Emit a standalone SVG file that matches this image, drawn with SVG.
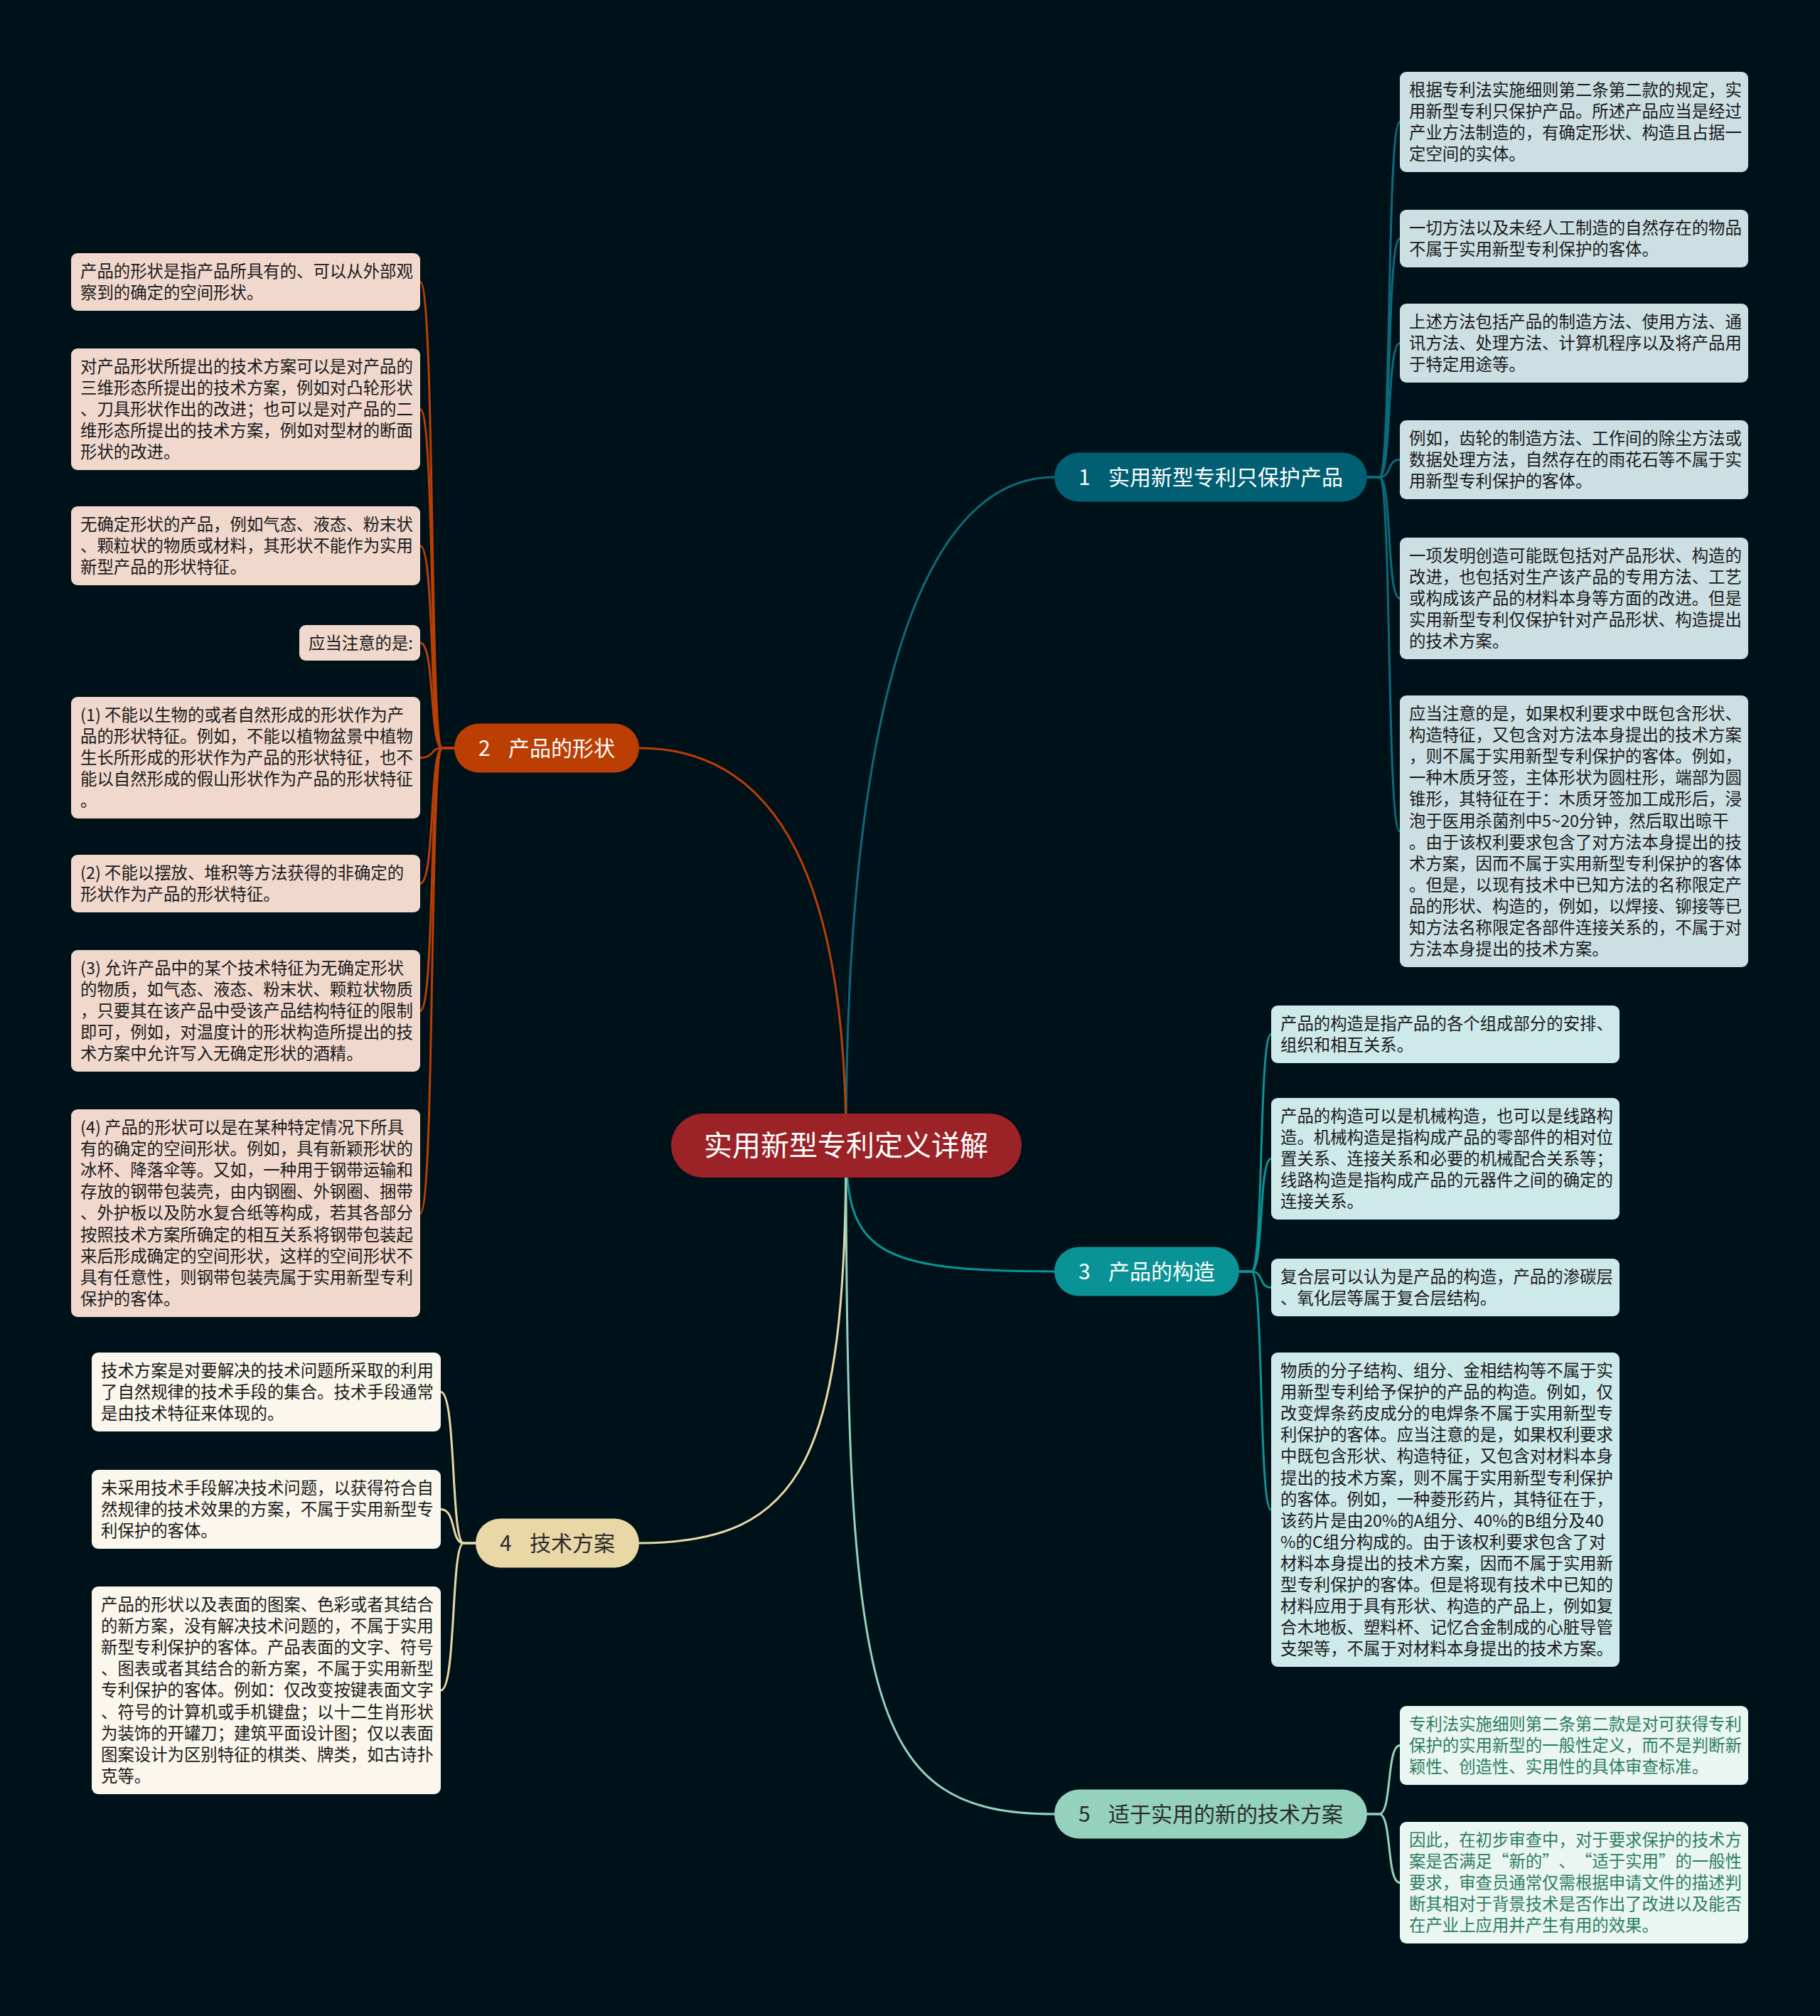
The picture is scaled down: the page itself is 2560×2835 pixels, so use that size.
<svg xmlns="http://www.w3.org/2000/svg" width="2560" height="2835" viewBox="0 0 2560 2835">
<style>
text{font-family:"Noto Sans CJK SC","Noto Sans",sans-serif;}
.lt{font-size:23.4px;fill:#1a1a1a;}
.g5{fill:#2e7d60;}
.bt{font-size:30px;}
.w{fill:#ffffff;}
.d{fill:#2b2b2b;}
.c1{fill:#ccdfe3;}
.c2{fill:#f1d8cd;}
.c3{fill:#cee9ea;}
.c4{fill:#fbf7ed;}
.c5{fill:#eaf6f2;}
.e{fill:none;stroke-width:3;stroke-linecap:round;}
.s1{stroke:#0b6a7d;}
.s2{stroke:#bb3e03;}
.s3{stroke:#0a9396;}
.s4{stroke:#e9d8a6;}
.s5{stroke:#94d2bd;}
</style>
<rect width="2560" height="2835" fill="#001219"/>
<g id="connectors">
<path class="e s1" d="M1190,1611 C1190,1080 1270,671 1483,671"/>
<path class="e s2" d="M1190,1611 C1190,1250 1100,1052 899,1052"/>
<path class="e s3" d="M1190,1611 C1190,1760 1230,1788 1483,1788"/>
<path class="e s4" d="M1190,1611 C1190,2050 1130,2170 899,2170"/>
<path class="e s5" d="M1190,1611 C1190,2400 1220,2551 1483,2551"/>
<g class="e s1">
<path d="M1923,671 L1940,671 C1958,671 1950,171.5 1969,171.5"/>
<path d="M1923,671 L1940,671 C1958,671 1950,335.5 1969,335.5"/>
<path d="M1923,671 L1940,671 C1958,671 1950,482.5 1969,482.5"/>
<path d="M1923,671 L1940,671 C1958,671 1950,646.5 1969,646.5"/>
<path d="M1923,671 L1940,671 C1958,671 1950,841.5 1969,841.5"/>
<path d="M1923,671 L1940,671 C1958,671 1950,1169 1969,1169"/>
</g>
<g class="e s2">
<path d="M639,1052 L622,1052 C604,1052 612,396.5 591,396.5"/>
<path d="M639,1052 L622,1052 C604,1052 612,575.5 591,575.5"/>
<path d="M639,1052 L622,1052 C604,1052 612,767.5 591,767.5"/>
<path d="M639,1052 L622,1052 C604,1052 612,904 591,904"/>
<path d="M639,1052 L622,1052 C604,1052 612,1065.5 591,1065.5"/>
<path d="M639,1052 L622,1052 C604,1052 612,1242.5 591,1242.5"/>
<path d="M639,1052 L622,1052 C604,1052 612,1421.5 591,1421.5"/>
<path d="M639,1052 L622,1052 C604,1052 612,1706 591,1706"/>
</g>
<g class="e s3">
<path d="M1743,1788 L1760,1788 C1778,1788 1770,1454.5 1788,1454.5"/>
<path d="M1743,1788 L1760,1788 C1778,1788 1770,1629.5 1788,1629.5"/>
<path d="M1743,1788 L1760,1788 C1778,1788 1770,1810.5 1788,1810.5"/>
<path d="M1743,1788 L1760,1788 C1778,1788 1770,2123 1788,2123"/>
</g>
<g class="e s4">
<path d="M669,2170 L652,2170 C634,2170 642,1957.5 620,1957.5"/>
<path d="M669,2170 L652,2170 C634,2170 642,2122.5 620,2122.5"/>
<path d="M669,2170 L652,2170 C634,2170 642,2377 620,2377"/>
</g>
<g class="e s5">
<path d="M1923,2551 L1940,2551 C1958,2551 1950,2454.5 1969,2454.5"/>
<path d="M1923,2551 L1940,2551 C1958,2551 1950,2647.5 1969,2647.5"/>
</g>
</g>

<g id="root">
<rect x="944" y="1566" width="493" height="90" rx="45" fill="#9b2226"/>
<text x="1190" y="1625" text-anchor="middle" font-size="40" class="w">实用新型专利定义详解</text>
</g>

<g id="b1">
<rect x="1483" y="636.5" width="440" height="69" rx="34.5" fill="#005f73"/>
<text class="bt w" x="1517" y="682">1</text>
<text class="bt w" x="1559" y="682">实用新型专利只保护产品</text>
</g>
<g id="b2">
<rect x="639" y="1017.5" width="260" height="69" rx="34.5" fill="#bb3e03"/>
<text class="bt w" x="673" y="1063">2</text>
<text class="bt w" x="715" y="1063">产品的形状</text>
</g>
<g id="b3">
<rect x="1483" y="1753.5" width="260" height="69" rx="34.5" fill="#0a9396"/>
<text class="bt w" x="1517" y="1799">3</text>
<text class="bt w" x="1559" y="1799">产品的构造</text>
</g>
<g id="b4">
<rect x="669" y="2135.5" width="230" height="69" rx="34.5" fill="#e9d8a6"/>
<text class="bt d" x="703" y="2181">4</text>
<text class="bt d" x="745" y="2181">技术方案</text>
</g>
<g id="b5">
<rect x="1483" y="2516.5" width="440" height="69" rx="34.5" fill="#94d2bd"/>
<text class="bt d" x="1517" y="2562">5</text>
<text class="bt d" x="1559" y="2562">适于实用的新的技术方案</text>
</g>

<g id="b1-l1">
<rect class="c1" x="1969" y="101" width="490" height="141" rx="9"/>
<text class="lt"><tspan x="1982" y="135">根据专利法实施细则第二条第二款的规定，实</tspan><tspan x="1982" y="165.1">用新型专利只保护产品。所述产品应当是经过</tspan><tspan x="1982" y="195.2">产业方法制造的，有确定形状、构造且占据一</tspan><tspan x="1982" y="225.3">定空间的实体。</tspan></text>
</g>
<g id="b1-l2">
<rect class="c1" x="1969" y="295" width="490" height="81" rx="9"/>
<text class="lt"><tspan x="1982" y="329">一切方法以及未经人工制造的自然存在的物品</tspan><tspan x="1982" y="359.1">不属于实用新型专利保护的客体。</tspan></text>
</g>
<g id="b1-l3">
<rect class="c1" x="1969" y="427" width="490" height="111" rx="9"/>
<text class="lt"><tspan x="1982" y="461">上述方法包括产品的制造方法、使用方法、通</tspan><tspan x="1982" y="491.1">讯方法、处理方法、计算机程序以及将产品用</tspan><tspan x="1982" y="521.2">于特定用途等。</tspan></text>
</g>
<g id="b1-l4">
<rect class="c1" x="1969" y="591" width="490" height="111" rx="9"/>
<text class="lt"><tspan x="1982" y="625">例如，齿轮的制造方法、工作间的除尘方法或</tspan><tspan x="1982" y="655.1">数据处理方法，自然存在的雨花石等不属于实</tspan><tspan x="1982" y="685.2">用新型专利保护的客体。</tspan></text>
</g>
<g id="b1-l5">
<rect class="c1" x="1969" y="756" width="490" height="171" rx="9"/>
<text class="lt"><tspan x="1982" y="790">一项发明创造可能既包括对产品形状、构造的</tspan><tspan x="1982" y="820.1">改进，也包括对生产该产品的专用方法、工艺</tspan><tspan x="1982" y="850.2">或构成该产品的材料本身等方面的改进。但是</tspan><tspan x="1982" y="880.3">实用新型专利仅保护针对产品形状、构造提出</tspan><tspan x="1982" y="910.4">的技术方案。</tspan></text>
</g>
<g id="b1-l6">
<rect class="c1" x="1969" y="978" width="490" height="382" rx="9"/>
<text class="lt"><tspan x="1982" y="1012">应当注意的是，如果权利要求中既包含形状、</tspan><tspan x="1982" y="1042.1">构造特征，又包含对方法本身提出的技术方案</tspan><tspan x="1982" y="1072.2">，则不属于实用新型专利保护的客体。例如，</tspan><tspan x="1982" y="1102.3">一种木质牙签，主体形状为圆柱形，端部为圆</tspan><tspan x="1982" y="1132.4">锥形，其特征在于：木质牙签加工成形后，浸</tspan><tspan x="1982" y="1162.5">泡于医用杀菌剂中5~20分钟，然后取出晾干</tspan><tspan x="1982" y="1192.6">。由于该权利要求包含了对方法本身提出的技</tspan><tspan x="1982" y="1222.7">术方案，因而不属于实用新型专利保护的客体</tspan><tspan x="1982" y="1252.8">。但是，以现有技术中已知方法的名称限定产</tspan><tspan x="1982" y="1282.9">品的形状、构造的，例如，以焊接、铆接等已</tspan><tspan x="1982" y="1313">知方法名称限定各部件连接关系的，不属于对</tspan><tspan x="1982" y="1343.1">方法本身提出的技术方案。</tspan></text>
</g>

<g id="b2-l1">
<rect class="c2" x="100" y="356" width="491" height="81" rx="9"/>
<text class="lt"><tspan x="113" y="390">产品的形状是指产品所具有的、可以从外部观</tspan><tspan x="113" y="420.1">察到的确定的空间形状。</tspan></text>
</g>
<g id="b2-l2">
<rect class="c2" x="100" y="490" width="491" height="171" rx="9"/>
<text class="lt"><tspan x="113" y="524">对产品形状所提出的技术方案可以是对产品的</tspan><tspan x="113" y="554.1">三维形态所提出的技术方案，例如对凸轮形状</tspan><tspan x="113" y="584.2">、刀具形状作出的改进；也可以是对产品的二</tspan><tspan x="113" y="614.3">维形态所提出的技术方案，例如对型材的断面</tspan><tspan x="113" y="644.4">形状的改进。</tspan></text>
</g>
<g id="b2-l3">
<rect class="c2" x="100" y="712" width="491" height="111" rx="9"/>
<text class="lt"><tspan x="113" y="746">无确定形状的产品，例如气态、液态、粉末状</tspan><tspan x="113" y="776.1">、颗粒状的物质或材料，其形状不能作为实用</tspan><tspan x="113" y="806.2">新型产品的形状特征。</tspan></text>
</g>
<g id="b2-l4">
<rect class="c2" x="421" y="879" width="170" height="50" rx="9"/>
<text class="lt"><tspan x="434" y="913">应当注意的是:</tspan></text>
</g>
<g id="b2-l5">
<rect class="c2" x="100" y="980" width="491" height="171" rx="9"/>
<text class="lt"><tspan x="113" y="1014">(1) 不能以生物的或者自然形成的形状作为产</tspan><tspan x="113" y="1044.1">品的形状特征。例如，不能以植物盆景中植物</tspan><tspan x="113" y="1074.2">生长所形成的形状作为产品的形状特征，也不</tspan><tspan x="113" y="1104.3">能以自然形成的假山形状作为产品的形状特征</tspan><tspan x="113" y="1134.4">。</tspan></text>
</g>
<g id="b2-l6">
<rect class="c2" x="100" y="1202" width="491" height="81" rx="9"/>
<text class="lt"><tspan x="113" y="1236">(2) 不能以摆放、堆积等方法获得的非确定的</tspan><tspan x="113" y="1266.1">形状作为产品的形状特征。</tspan></text>
</g>
<g id="b2-l7">
<rect class="c2" x="100" y="1336" width="491" height="171" rx="9"/>
<text class="lt"><tspan x="113" y="1370">(3) 允许产品中的某个技术特征为无确定形状</tspan><tspan x="113" y="1400.1">的物质，如气态、液态、粉末状、颗粒状物质</tspan><tspan x="113" y="1430.2">，只要其在该产品中受该产品结构特征的限制</tspan><tspan x="113" y="1460.3">即可，例如，对温度计的形状构造所提出的技</tspan><tspan x="113" y="1490.4">术方案中允许写入无确定形状的酒精。</tspan></text>
</g>
<g id="b2-l8">
<rect class="c2" x="100" y="1560" width="491" height="292" rx="9"/>
<text class="lt"><tspan x="113" y="1594">(4) 产品的形状可以是在某种特定情况下所具</tspan><tspan x="113" y="1624.1">有的确定的空间形状。例如，具有新颖形状的</tspan><tspan x="113" y="1654.2">冰杯、降落伞等。又如，一种用于钢带运输和</tspan><tspan x="113" y="1684.3">存放的钢带包装壳，由内钢圈、外钢圈、捆带</tspan><tspan x="113" y="1714.4">、外护板以及防水复合纸等构成，若其各部分</tspan><tspan x="113" y="1744.5">按照技术方案所确定的相互关系将钢带包装起</tspan><tspan x="113" y="1774.6">来后形成确定的空间形状，这样的空间形状不</tspan><tspan x="113" y="1804.7">具有任意性，则钢带包装壳属于实用新型专利</tspan><tspan x="113" y="1834.8">保护的客体。</tspan></text>
</g>

<g id="b3-l1">
<rect class="c3" x="1788" y="1414" width="490" height="81" rx="9"/>
<text class="lt"><tspan x="1801" y="1448">产品的构造是指产品的各个组成部分的安排、</tspan><tspan x="1801" y="1478.1">组织和相互关系。</tspan></text>
</g>
<g id="b3-l2">
<rect class="c3" x="1788" y="1544" width="490" height="171" rx="9"/>
<text class="lt"><tspan x="1801" y="1578">产品的构造可以是机械构造，也可以是线路构</tspan><tspan x="1801" y="1608.1">造。机械构造是指构成产品的零部件的相对位</tspan><tspan x="1801" y="1638.2">置关系、连接关系和必要的机械配合关系等；</tspan><tspan x="1801" y="1668.3">线路构造是指构成产品的元器件之间的确定的</tspan><tspan x="1801" y="1698.4">连接关系。</tspan></text>
</g>
<g id="b3-l3">
<rect class="c3" x="1788" y="1770" width="490" height="81" rx="9"/>
<text class="lt"><tspan x="1801" y="1804">复合层可以认为是产品的构造，产品的渗碳层</tspan><tspan x="1801" y="1834.1">、氧化层等属于复合层结构。</tspan></text>
</g>
<g id="b3-l4">
<rect class="c3" x="1788" y="1902" width="490" height="442" rx="9"/>
<text class="lt"><tspan x="1801" y="1936">物质的分子结构、组分、金相结构等不属于实</tspan><tspan x="1801" y="1966.1">用新型专利给予保护的产品的构造。例如，仅</tspan><tspan x="1801" y="1996.2">改变焊条药皮成分的电焊条不属于实用新型专</tspan><tspan x="1801" y="2026.3">利保护的客体。应当注意的是，如果权利要求</tspan><tspan x="1801" y="2056.4">中既包含形状、构造特征，又包含对材料本身</tspan><tspan x="1801" y="2086.5">提出的技术方案，则不属于实用新型专利保护</tspan><tspan x="1801" y="2116.6">的客体。例如，一种菱形药片，其特征在于，</tspan><tspan x="1801" y="2146.7">该药片是由20%的A组分、40%的B组分及40</tspan><tspan x="1801" y="2176.8">%的C组分构成的。由于该权利要求包含了对</tspan><tspan x="1801" y="2206.9">材料本身提出的技术方案，因而不属于实用新</tspan><tspan x="1801" y="2237">型专利保护的客体。但是将现有技术中已知的</tspan><tspan x="1801" y="2267.1">材料应用于具有形状、构造的产品上，例如复</tspan><tspan x="1801" y="2297.2">合木地板、塑料杯、记忆合金制成的心脏导管</tspan><tspan x="1801" y="2327.3">支架等，不属于对材料本身提出的技术方案。</tspan></text>
</g>

<g id="b4-l1">
<rect class="c4" x="129" y="1902" width="491" height="111" rx="9"/>
<text class="lt"><tspan x="142" y="1936">技术方案是对要解决的技术问题所采取的利用</tspan><tspan x="142" y="1966.1">了自然规律的技术手段的集合。技术手段通常</tspan><tspan x="142" y="1996.2">是由技术特征来体现的。</tspan></text>
</g>
<g id="b4-l2">
<rect class="c4" x="129" y="2067" width="491" height="111" rx="9"/>
<text class="lt"><tspan x="142" y="2101">未采用技术手段解决技术问题，以获得符合自</tspan><tspan x="142" y="2131.1">然规律的技术效果的方案，不属于实用新型专</tspan><tspan x="142" y="2161.2">利保护的客体。</tspan></text>
</g>
<g id="b4-l3">
<rect class="c4" x="129" y="2231" width="491" height="292" rx="9"/>
<text class="lt"><tspan x="142" y="2265">产品的形状以及表面的图案、色彩或者其结合</tspan><tspan x="142" y="2295.1">的新方案，没有解决技术问题的，不属于实用</tspan><tspan x="142" y="2325.2">新型专利保护的客体。产品表面的文字、符号</tspan><tspan x="142" y="2355.3">、图表或者其结合的新方案，不属于实用新型</tspan><tspan x="142" y="2385.4">专利保护的客体。例如：仅改变按键表面文字</tspan><tspan x="142" y="2415.5">、符号的计算机或手机键盘；以十二生肖形状</tspan><tspan x="142" y="2445.6">为装饰的开罐刀；建筑平面设计图；仅以表面</tspan><tspan x="142" y="2475.7">图案设计为区别特征的棋类、牌类，如古诗扑</tspan><tspan x="142" y="2505.8">克等。</tspan></text>
</g>

<g id="b5-l1">
<rect class="c5" x="1969" y="2399" width="490" height="111" rx="9"/>
<text class="lt g5"><tspan x="1982" y="2433">专利法实施细则第二条第二款是对可获得专利</tspan><tspan x="1982" y="2463.1">保护的实用新型的一般性定义，而不是判断新</tspan><tspan x="1982" y="2493.2">颖性、创造性、实用性的具体审查标准。</tspan></text>
</g>
<g id="b5-l2">
<rect class="c5" x="1969" y="2562" width="490" height="171" rx="9"/>
<text class="lt g5"><tspan x="1982" y="2596">因此，在初步审查中，对于要求保护的技术方</tspan><tspan x="1982" y="2626.1">案是否满足</tspan><tspan x="2122.4" y="2626.1" text-anchor="end">“</tspan><tspan x="2122.4" y="2626.1">新的</tspan><tspan x="2169.2" y="2626.1">”</tspan><tspan x="2192.6" y="2626.1">、</tspan><tspan x="2239.4" y="2626.1" text-anchor="end">“</tspan><tspan x="2239.4" y="2626.1">适于实用</tspan><tspan x="2333" y="2626.1">”</tspan><tspan x="2356.4" y="2626.1">的一般性</tspan><tspan x="1982" y="2656.2">要求，审查员通常仅需根据申请文件的描述判</tspan><tspan x="1982" y="2686.3">断其相对于背景技术是否作出了改进以及能否</tspan><tspan x="1982" y="2716.4">在产业上应用并产生有用的效果。</tspan></text>
</g>
</svg>
